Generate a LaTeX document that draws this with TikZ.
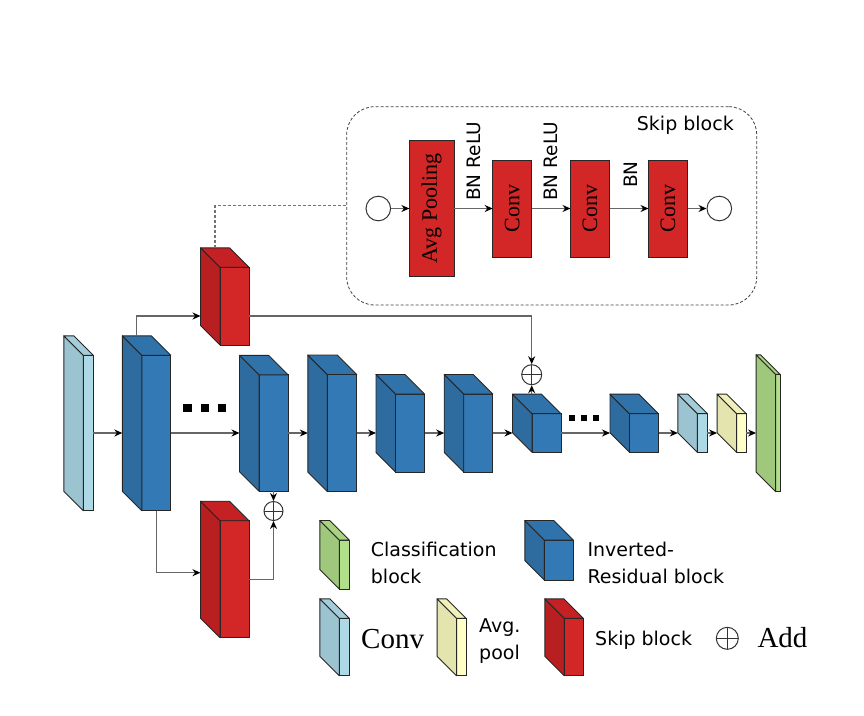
\documentclass[tikz,border=0pt]{standalone}
\usepackage{fontspec}
\setmainfont{Liberation Serif}
\newfontfamily\sansf{DejaVu Sans}
\usepackage{tikz}
\usetikzlibrary{arrows.meta}

\definecolor{bluef}{HTML}{3379B5}
\definecolor{blues}{HTML}{2E6B9F}
\definecolor{bluet}{HTML}{3072AA}
\definecolor{redf}{HTML}{D32627}
\definecolor{reds}{HTML}{B81F20}
\definecolor{redt}{HTML}{C52124}
\definecolor{convf}{HTML}{ADD8E6}
\definecolor{convs}{HTML}{9CC3D0}
\definecolor{convt}{HTML}{A4CDDB}
\definecolor{poolf}{HTML}{FFFFC6}
\definecolor{pools}{HTML}{E4E4AE}
\definecolor{poolt}{HTML}{F0F0BA}
\definecolor{clsf}{HTML}{B2DF8A}
\definecolor{clss}{HTML}{A0C87C}
\definecolor{clst}{HTML}{A9D383}

\newcommand{\dep}{19.5}
% front face as a node, side and top faces behind it
\newcommand{\blk}[5]{%
  \node[face, fill=#5f, minimum width=#3, minimum height=#4] (#1) at (#2) {};
  \filldraw[edge, fill=#5s] (#1.north west) -- ++(-\dep,-\dep) -- ([shift={(-\dep,-\dep)}]#1.south west) -- (#1.south west) -- cycle;
  \filldraw[edge, fill=#5t] (#1.north west) -- ++(-\dep,-\dep) -- ([shift={(-\dep,-\dep)}]#1.north east) -- (#1.north east) -- cycle;
  \coordinate (#1-in) at ([shift={(-\dep,0)}]#1.west);
  \coordinate (#1-top) at ([shift={(-\dep,-\dep)}]#1.north);
}

\begin{document}
\begin{tikzpicture}[x=1pt, y=-1pt,
    face/.style={draw=black!85, line width=0.9pt, inner sep=0pt, outer sep=0pt},
    edge/.style={draw=black!85, line width=0.9pt, line join=round},
    arr/.style={draw=black!60, line width=1.2pt, -{Stealth[length=8pt, width=7pt, black]}},
    dashline/.style={draw=black!55, line width=1.1pt, dash pattern=on 3pt off 2pt},
    panel/.style={draw=black!75, line width=0.8pt, dash pattern=on 3pt off 2pt, rounded corners=28pt, inner sep=0pt},
    addop/.style={circle, draw=black!80, line width=1pt, fill=white, minimum size=20pt, inner sep=0pt,
      path picture={\draw[black!80, line width=1pt] (path picture bounding box.north) -- (path picture bounding box.south)
        (path picture bounding box.west) -- (path picture bounding box.east);}},
    io/.style={circle, draw=black!80, line width=1pt, fill=white, minimum size=24.6pt, inner sep=0pt},
    layer/.style={face, fill=redf, font=\fontsize{22}{24}\selectfont},
    lbl/.style={font=\sansf\fontsize{19}{26.5}\selectfont, inner sep=0pt, align=left},
    big/.style={font=\fontsize{29}{32}\selectfont, inner sep=0pt}]
    \useasboundingbox (0,0) rectangle (864,715);

    % skip block detail
    \node[panel, minimum width=410, minimum height=198.3] (skp) at (551.7,205.85) {};
    \node[lbl, anchor=base west] (skpt) at (636.7,130) {Skip block};
    \node[io] (i1) at (378.3,208.5) {};
    \node[layer, minimum width=44.7, minimum height=136.7] (ap) at (431.7,208.5) {\rotatebox{90}{Avg Pooling}};
    \node[layer, minimum width=39, minimum height=97] (k1) at (512.2,208.5) {\rotatebox{90}{Conv}};
    \node[layer, minimum width=39, minimum height=97] (k2) at (590,208.5) {\rotatebox{90}{Conv}};
    \node[layer, minimum width=39, minimum height=97] (k3) at (668,208.5) {\rotatebox{90}{Conv}};
    \node[io] (o1) at (719.3,208.5) {};
    \draw[arr] (i1) -- (ap);
    \draw[arr] (ap) -- (k1);
    \draw[arr] (k1) -- (k2);
    \draw[arr] (k2) -- (k3);
    \draw[arr] (k3) -- (o1);
    \node[lbl, font=\sansf\fontsize{18.5}{20}\selectfont, rotate=90, anchor=west] (bn1) at (474,201) {BN ReLU};
    \node[lbl, font=\sansf\fontsize{18.5}{20}\selectfont, rotate=90, anchor=west] (bn2) at (551.3,201) {BN ReLU};
    \node[lbl, font=\sansf\fontsize{18.5}{20}\selectfont, rotate=90, anchor=west] (bn3) at (630.3,188) {BN};

    % main network
    \blk{c1}{88.3,433}{10}{155.4}{conv}
    \blk{b1}{156.3,433}{29}{155.4}{blue}
    \blk{r1}{234.5,306.2}{29}{77.7}{red}
    \blk{r2}{234.5,579.2}{29}{117}{red}
    \blk{b2}{273.5,433}{29}{116.3}{blue}
    \blk{b3}{342,433}{29.4}{117}{blue}
    \blk{b4}{410,433}{29}{78}{blue}
    \blk{b5}{478.2,433}{29}{78}{blue}
    \blk{b6}{546.5,433}{29}{38.7}{blue}
    \blk{b7}{644,433}{29}{38.7}{blue}
    \blk{c2}{702.3,433}{10}{38.7}{conv}
    \blk{p1}{741.3,433}{9.5}{38.7}{pool}
    \blk{g1}{777.8,433}{4.5}{117.3}{cls}
    \node[addop] (a1) at (531.7,374.7) {};
    \node[addop, minimum size=19pt] (a2) at (273.5,511) {};
    \coordinate (b6t) at ([shift={(0,-\dep)}]b6.north);

    \draw[arr] (c1.east) -- (b1-in);
    \draw[arr] (b1.east) -- (b2-in);
    \draw[arr] (b2.east) -- (b3-in);
    \draw[arr] (b3.east) -- (b4-in);
    \draw[arr] (b4.east) -- (b5-in);
    \draw[arr] (b5.east) -- (b6-in);
    \draw[arr] (b6.east) -- (b7-in);
    \draw[arr] (b7.east) -- (c2-in);
    \draw[arr] (c2.east) -- (p1-in);
    \draw[arr] (p1.east) -- (g1-in);
    \draw[arr] (b1-top) |- ([shift={(-\dep,9.8)}]r1.west);
    \draw[arr] ([shift={(0,9.8)}]r1.east) -| (a1.north);
    \draw[arr] (a1.south |- b6t) -- (a1.south);
    \draw[arr] (b1.south) |- ([shift={(-\dep,-6.5)}]r2.west);
    \draw[arr] (r2.east) -| (a2.south);
    \draw[arr] (b2.south) -- (a2.north);
    \draw[dashline] (r1-top) |- (skp.west);

    % dots
    \foreach \i in {0,1,2} \fill (183.3+17.3*\i,404) rectangle ++(8.3,8.3);
    \foreach \i in {0,1,2} \fill (569.3+12*\i,414.5) rectangle ++(6,6);

    % legend
    \blk{lg1}{344.3,564.5}{10}{49}{cls}
    \node[lbl, anchor=west] (lt1) at (370.7,563) {Classification\\block};
    \blk{lg2}{558.8,560}{29}{40}{blue}
    \node[lbl, anchor=west] (lt2) at (587.3,563) {Inverted-\\Residual block};
    \blk{lg3}{344.3,647}{10}{57.4}{conv}
    \node[big, anchor=base west] (lt3) at (361,648.3) {Conv};
    \blk{lg4}{461.3,647}{9.5}{57.4}{pool}
    \node[lbl, anchor=west] (lt4) at (479,641) {Avg.\\pool};
    \blk{lg5}{573.8,647}{19}{57.4}{red}
    \node[lbl, anchor=base west] (lt5) at (595,645) {Skip block};
    \node[addop, minimum size=22pt] (lg6) at (727.3,638.3) {};
    \node[big, anchor=base west] (lt6) at (757.3,647.3) {Add};
\end{tikzpicture}
\end{document}
